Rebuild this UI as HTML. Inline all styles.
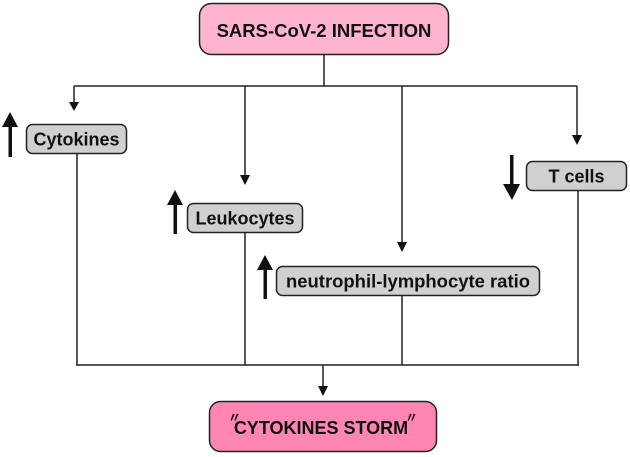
<!DOCTYPE html>
<html><head><meta charset="utf-8"><style>
html,body{margin:0;padding:0;background:#fff;width:630px;height:457px;overflow:hidden}
svg{display:block}
text{font-family:"Liberation Sans",Arial,sans-serif;font-weight:bold;fill:#111}
</style></head><body>
<svg width="630" height="457" viewBox="0 0 630 457" xmlns="http://www.w3.org/2000/svg">
<g stroke="#222" stroke-width="1.5" fill="none">
<line x1="324" y1="55" x2="324" y2="86"/>
<line x1="74" y1="86" x2="577" y2="86"/>
<line x1="74" y1="86" x2="74" y2="104"/>
<line x1="245" y1="86" x2="245" y2="178"/>
<line x1="402" y1="86" x2="402" y2="245"/>
<line x1="577" y1="86" x2="577" y2="138"/>
<line x1="77" y1="153" x2="77" y2="365"/>
<line x1="245" y1="233" x2="245" y2="365"/>
<line x1="402" y1="296" x2="402" y2="365"/>
<line x1="578" y1="191" x2="578" y2="365"/>
<line x1="76" y1="365" x2="579" y2="365"/>
<line x1="323" y1="365" x2="323" y2="388"/>
</g>
<g fill="#111">
<polygon points="69,102 79,102 74,111"/>
<polygon points="240,175 250,175 245,185"/>
<polygon points="397,242 407,242 402,252"/>
<polygon points="572,135 582,135 577,145"/>
<polygon points="318,386 328,386 323,396"/>
<rect x="8.5" y="124" width="3.5" height="33"/>
<polygon points="2,127 18,127 10,112"/>
<rect x="173.5" y="202" width="3.5" height="32"/>
<polygon points="167,205 183,205 175,190"/>
<rect x="263.5" y="267" width="3.5" height="32"/>
<polygon points="257,270 273,270 265,255"/>
<rect x="510" y="155" width="3.5" height="32"/>
<polygon points="503,184 520,184 512,200"/>
</g>
<rect x="199.5" y="3.5" width="249" height="51" rx="12" fill="#ffb3cf" stroke="#222" stroke-width="1.5"/>
<text x="324" y="37" font-size="18.5" text-anchor="middle">SARS-CoV-2 INFECTION</text>
<rect x="26.5" y="124.5" width="100" height="29" rx="6" fill="#d0d0d0" stroke="#222" stroke-width="1.5"/>
<text x="76.5" y="145.5" font-size="18" text-anchor="middle">Cytokines</text>
<rect x="187.5" y="203.5" width="115" height="29" rx="6" fill="#d0d0d0" stroke="#222" stroke-width="1.5"/>
<text x="245" y="224.5" font-size="18" text-anchor="middle">Leukocytes</text>
<rect x="276.5" y="266.5" width="263" height="29" rx="6" fill="#d0d0d0" stroke="#222" stroke-width="1.5"/>
<text x="408" y="287.5" font-size="18" text-anchor="middle" textLength="244" lengthAdjust="spacingAndGlyphs">neutrophil-lymphocyte ratio</text>
<rect x="526.5" y="161.5" width="100" height="29" rx="6" fill="#d0d0d0" stroke="#222" stroke-width="1.5"/>
<text x="576.5" y="182.5" font-size="18" text-anchor="middle">T cells</text>
<rect x="209.5" y="401.5" width="227" height="50" rx="11" fill="#ff85b5" stroke="#222" stroke-width="1.5"/>
<text x="321" y="434" font-size="18" text-anchor="middle">CYTOKINES STORM</text>
<text x="228" y="422" font-size="13" font-weight="normal">〃</text>
<text x="405" y="422" font-size="13" font-weight="normal">〃</text>
</svg>
</body></html>
